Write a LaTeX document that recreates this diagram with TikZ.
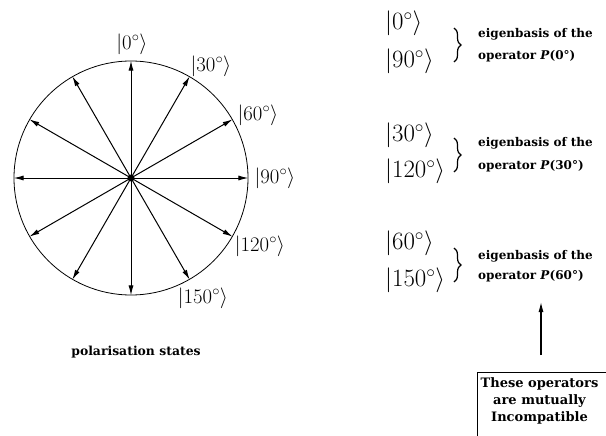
\documentclass[tikz,border=0pt]{standalone}
\usepackage{amsmath}
\usepackage{fontspec}
\usetikzlibrary{arrows.meta,decorations.pathreplacing,calc}
\newfontfamily\lblfont{DejaVu Serif}
\begin{document}
\begin{tikzpicture}[x=1pt,y=-1pt,
  spoke/.style={line width=1pt,-{Latex[length=10pt,width=5pt]}},
  cket/.style={font=\fontsize{19.5}{22}\selectfont, inner sep=0pt},
  rket/.style={font=\fontsize{25}{28}\selectfont, inner sep=0pt, anchor=west},
  desc/.style={font=\lblfont\bfseries\fontsize{12}{14}\selectfont, inner sep=0pt, anchor=west},
  bracestyle/.style={decorate, decoration={brace, amplitude=7pt}, line width=1.2pt},
  frame/.style={draw, line width=0.9pt},
  msgtext/.style={font=\lblfont\bfseries\fontsize{13}{17}\selectfont, align=center, inner sep=0pt},
  pointer/.style={line width=1.1pt,-{Latex[length=10pt,width=5pt]}}]
\useasboundingbox[fill=white] (0,0) rectangle (606,436);

% circle of polarisation states
\node[circle, draw, line width=0.8pt, minimum size=234pt, inner sep=0pt] (circ) at (131,178) {};
\node[circle, fill, inner sep=0pt, minimum size=7pt] (ctr) at (131,178) {};
\foreach \a in {0,30,...,330} {
  \draw[spoke] (ctr.center) -- (circ.\a);
}

\node[cket] (c0) at (132,44) {$\lvert 0^\circ\rangle$};
\node[cket] (c30) at (211,66) {$\lvert 30^\circ\rangle$};
\node[cket] (c60) at (258,115) {$\lvert 60^\circ\rangle$};
\node[cket] (c90) at (275,178) {$\lvert 90^\circ\rangle$};
\node[cket] (c120) at (260,246) {$\lvert 120^\circ\rangle$};
\node[cket] (c150) at (203,298) {$\lvert 150^\circ\rangle$};

\node[font=\lblfont\bfseries\fontsize{12.4}{14}\selectfont, inner sep=0pt] (pol) at (136,352) {polarisation states};

% right column
\node[rket] (r0) at (385,23) {$\lvert 0^\circ\rangle$};
\node[rket] (r90) at (385,61) {$\lvert 90^\circ\rangle$};
\node[rket] (r30) at (385,135) {$\lvert 30^\circ\rangle$};
\node[rket] (r120) at (385,171) {$\lvert 120^\circ\rangle$};
\node[rket] (r60) at (385,243) {$\lvert 60^\circ\rangle$};
\node[rket] (r150) at (385,280) {$\lvert 150^\circ\rangle$};

\coordinate (b1t) at (454,28);  \coordinate (b1b) at (454,62);
\coordinate (b2t) at (454,138); \coordinate (b2b) at (454,172);
\coordinate (b3t) at (454,248); \coordinate (b3b) at (454,282);
\draw[bracestyle] (b1t) -- (b1b);
\draw[bracestyle] (b2t) -- (b2b);
\draw[bracestyle] (b3t) -- (b3b);

\node[desc] (e1) at (478,34) {eigenbasis of the};
\node[desc] (o1) at (478,56) {operator \textit{P}(0°)};
\node[desc] (e2) at (478,143) {eigenbasis of the};
\node[desc] (o2) at (478,166) {operator \textit{P}(30°)};
\node[desc] (e3) at (478,256) {eigenbasis of the};
\node[desc] (o3) at (478,276) {operator \textit{P}(60°)};

% box
\node[frame, anchor=north west, minimum width=140pt, minimum height=80pt, inner sep=0pt] (box) at (477,372) {};
\node[msgtext] (msg) at (539.5,401) {These operators\\are mutually\\Incompatible};
\coordinate (arrtip) at (541,302);
\draw[pointer, shorten <=17pt] (box.north -| arrtip) -- (arrtip);
\end{tikzpicture}
\end{document}
